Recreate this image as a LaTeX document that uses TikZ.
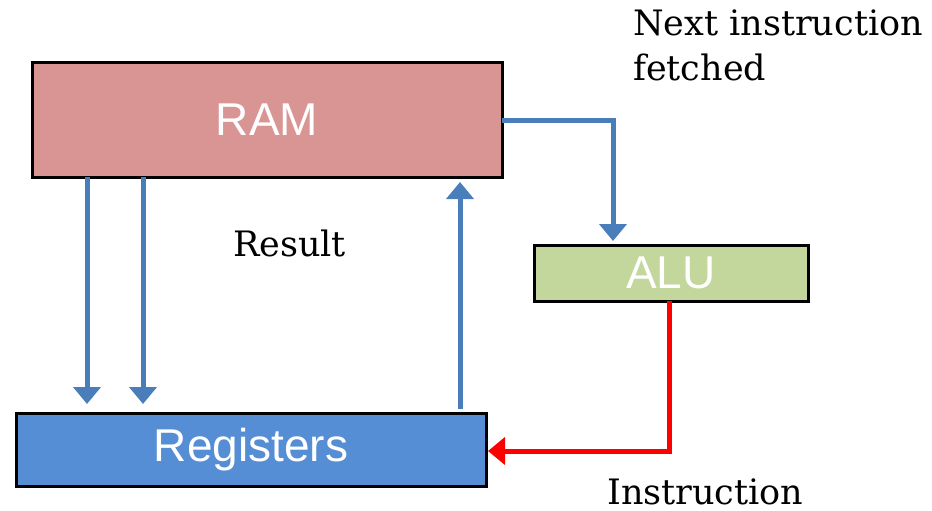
\documentclass[tikz,border=0pt]{standalone}
\usepackage{fontspec}
\newfontfamily\boxfont{Liberation Sans}
\newfontfamily\notefont{DejaVu Serif}
\usetikzlibrary{arrows.meta}
\definecolor{ramfill}{HTML}{D99594}
\definecolor{alufill}{HTML}{C3D69B}
\definecolor{regfill}{HTML}{558ED5}
\definecolor{flowblue}{HTML}{4A7EBB}
\begin{document}
\begin{tikzpicture}[x=1pt,y=-1pt,
  unit/.style={draw=black, line width=3pt, rectangle, inner sep=0pt, outer sep=0pt,
    text=white, font=\boxfont\fontsize{46}{50}\selectfont},
  flow/.style={draw=flowblue, line width=5pt,
    -{Triangle[width=27pt,length=17pt]}, flowblue},
  back/.style={draw=red, line width=5pt,
    -{Triangle[width=27pt,length=17pt]}, red},
  note/.style={inner sep=0pt, font=\notefont\fontsize{35}{45}\selectfont}]
\useasboundingbox (0,0) rectangle (932,511);

% functional units
\node[unit, fill=ramfill, minimum width=470pt, minimum height=114pt] (RAM) at (267,120) {RAM};
\node[unit, fill=alufill, minimum width=274pt, minimum height=56pt] (ALU) at (671,273) {ALU};
\node[unit, fill=regfill, minimum width=470pt, minimum height=73pt] (Reg) at (251,449.5) {Registers};

% data paths
\draw[flow] ([xshift=55pt]RAM.south west) -- ([xshift=71pt,yshift=9pt]Reg.north west);
\draw[flow] ([xshift=111pt]RAM.south west) -- ([xshift=127pt,yshift=9pt]Reg.north west);
\draw[flow] ([xshift=-26pt,yshift=4pt]Reg.north east) -- ([xshift=-42pt,yshift=-5pt]RAM.south east);
\draw[flow] (RAM.east) -| ([xshift=-58pt,yshift=4pt]ALU.north);
\draw[back] ([xshift=-2pt]ALU.south) |- ([xshift=2pt,yshift=-1.5pt]Reg.east);

% labels
\node[note, anchor=base west] (res) at (233,256) {Result};
\node[note, anchor=base west] (nxt) at (633,36) {Next instruction};
\node[note, anchor=base west] (fet) at (633,81) {fetched};
\node[note, anchor=base west] (ins) at (607,504) {Instruction};
\end{tikzpicture}
\end{document}
